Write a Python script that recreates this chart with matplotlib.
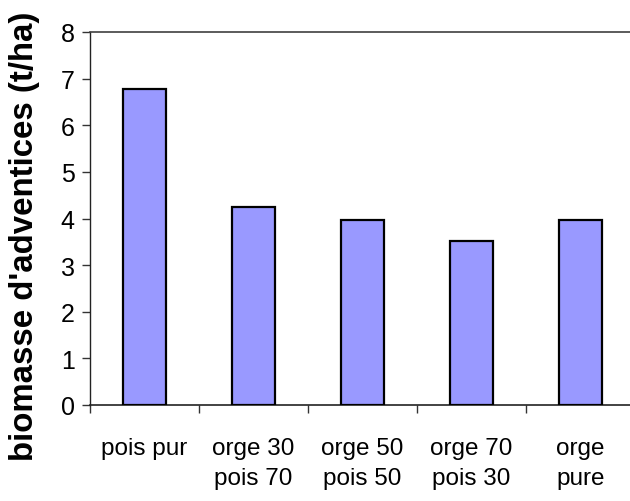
import matplotlib
matplotlib.use("Agg")
import matplotlib.pyplot as plt
import numpy as np

categories = ["pois pur", "orge 30\npois 70", "orge 50\npois 50", "orge 70\npois 30", "orge\npure"]
biomasse = [6.78, 4.25, 3.97, 3.52, 3.96]
y_ticks = [0, 1, 2, 3, 4, 5, 6, 7, 8]

plt.rcParams["font.family"] = ["Liberation Sans", "DejaVu Sans"]

fig = plt.figure(figsize=(6.3, 5.02), dpi=100)
ax = fig.add_axes([90 / 630, (502 - 406) / 502, 545 / 630, 373 / 502])

x = np.arange(len(categories))
ax.bar(x, biomasse, width=0.4, color="#9999FF", edgecolor="black", linewidth=1.6, zorder=3)

ax.set_xlim(-0.5, len(categories) - 0.5)
ax.set_ylim(0, 8)
ax.set_yticks(y_ticks)
ax.set_yticklabels([str(t) for t in y_ticks], fontsize=18)

ax.set_xticks(x)
ax.set_xticklabels(categories, fontsize=17.5, linespacing=1.5)
ax.set_xticks(np.arange(-0.5, len(categories), 1.0), minor=True)
ax.tick_params(axis="x", which="major", length=0, pad=23)
ax.tick_params(axis="x", which="minor", length=6, width=1, color="#333333", direction="out")
ax.tick_params(axis="y", length=6, width=1, color="#333333", direction="out", pad=5)

ax.spines["right"].set_visible(False)
ax.spines["top"].set_color("#404040")
ax.spines["top"].set_linewidth(1.2)
ax.spines["left"].set_color("#222222")
ax.spines["bottom"].set_color("#222222")
ax.spines["left"].set_linewidth(1.0)
ax.spines["bottom"].set_linewidth(1.2)

ax.set_ylabel("biomasse d'adventices (t/ha)", fontsize=23.8, fontweight="bold")
ax.yaxis.set_label_coords(-50 / 545, (406 - 236) / 373)

fig.savefig("out.png", dpi=100)
